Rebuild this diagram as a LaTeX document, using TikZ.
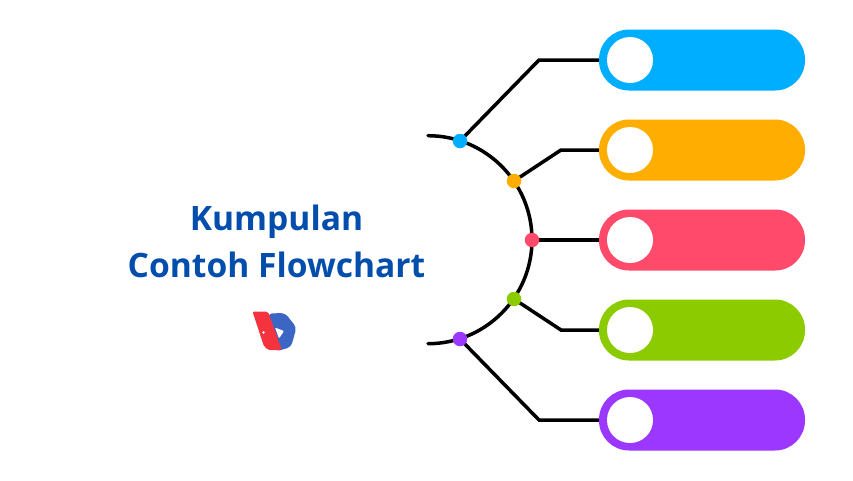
\documentclass[tikz,border=0pt]{standalone}
\usepackage{fontspec}
\setmainfont{Open Sans}
\usepackage{xcolor}
\usetikzlibrary{positioning,calc,backgrounds}
\definecolor{skyblue}{HTML}{00AEFF}
\definecolor{amber}{HTML}{FFAE00}
\definecolor{rose}{HTML}{FF4A6B}
\definecolor{lime}{HTML}{8CCB00}
\definecolor{violet}{HTML}{9B37FF}
\definecolor{titleblue}{HTML}{034EAC}
\definecolor{logored}{HTML}{F5333F}
\definecolor{logoblue}{HTML}{3B66C4}

\begin{document}
\begin{tikzpicture}[
  x=1pt, y=-1pt,
  pill/.style={rectangle, rounded corners=30pt, minimum width=206pt, minimum height=61pt, inner sep=0pt, outer sep=0pt},
  hole/.style={circle, fill=white, minimum size=46pt, inner sep=0pt},
  dot/.style={circle, minimum size=14.5pt, inner sep=0pt},
  wire/.style={line width=3.5pt, draw=black, line cap=round},
  title/.style={text=titleblue, font=\fontsize{33.6}{47}\selectfont\bfseries, align=center}
]
\useasboundingbox (0,0) rectangle (853,480);

\node[pill, fill=skyblue] (pillA) at (702,60) {};
\node[pill, fill=amber, below=29pt of pillA] (pillB) {};
\node[pill, fill=rose, below=29pt of pillB] (pillC) {};
\node[pill, fill=lime, below=29pt of pillC] (pillD) {};
\node[pill, fill=violet, below=29pt of pillD] (pillE) {};

\node[hole] (holeA) at ($(pillA.west)+(31,0)$) {};
\node[hole] (holeB) at ($(pillB.west)+(31,0)$) {};
\node[hole] (holeC) at ($(pillC.west)+(31,0)$) {};
\node[hole] (holeD) at ($(pillD.west)+(31,0)$) {};
\node[hole] (holeE) at ($(pillE.west)+(31,0)$) {};

\coordinate (trunkTop) at (428,135.7);
\coordinate (bendA) at (539,60);
\coordinate (bendB) at (561,150);
\coordinate (bendD) at (561,330);
\coordinate (bendE) at (539,420);

\node[dot, fill=skyblue] (dotA) at (460,141) {};
\node[dot, fill=amber] (dotB) at (514,181) {};
\node[dot, fill=rose] (dotC) at (532,240) {};
\node[dot, fill=lime] (dotD) at (514,299) {};
\node[dot, fill=violet] (dotE) at (460,339) {};

\begin{pgfonlayer}{background}
\draw[wire] (trunkTop) arc[start angle=90, end angle=-90, radius=104pt];
\draw[wire] (dotA.center) -- (bendA) -- (pillA.west);
\draw[wire] (dotB.center) -- (bendB) -- (pillB.west);
\draw[wire] (dotC.center) -- (pillC.west);
\draw[wire] (dotD.center) -- (bendD) -- (pillD.west);
\draw[wire] (dotE.center) -- (bendE) -- (pillE.west);
\end{pgfonlayer}

\node[title] (heading) at (276.5,241) {Kumpulan\\Contoh Flowchart};

% logo
\fill[logoblue, rounded corners=4pt] (268,313.5) -- (285,313) -- (296.5,327.5) -- (291,347) -- (276,351.5) -- cycle;
\fill[white, rounded corners=1pt] (275,327.5) -- (284,331) -- (279,338.5) -- cycle;
\fill[logored, rounded corners=2pt] (252.5,311.5) -- (268,311.5) -- (281.8,350) -- (270,350) [rounded corners=5pt] -- (265,349.5) [rounded corners=2pt] -- cycle;
\fill[white] (263.5,332.5) circle (1.3pt);
\end{tikzpicture}
\end{document}
